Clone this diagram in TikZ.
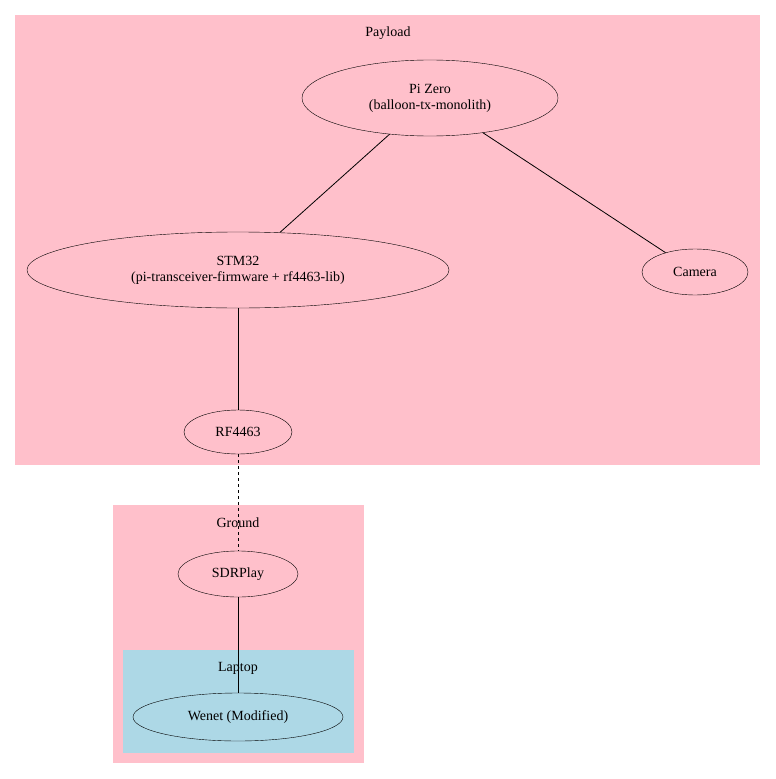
\documentclass[tikz,border=0pt]{standalone}
\usepackage{fontspec}
\setmainfont{Liberation Serif}
\usetikzlibrary{shapes.geometric,positioning}
\definecolor{pinkbg}{HTML}{FFC0CB}
\definecolor{bluebg}{HTML}{ADD8E6}
\tikzset{dev/.style={draw,ellipse,inner sep=0pt,align=center,font=\fontsize{14}{16}\selectfont},
clust/.style={font=\fontsize{14}{16}\selectfont},
link/.style={line width=0.8pt}}

\begin{document}
\begin{tikzpicture}[x=1pt,y=-1pt]
\useasboundingbox (0,0) rectangle (776,779);

% Clusters
\fill[pinkbg] (15,15) rectangle (760,465);
\fill[pinkbg] (113,505) rectangle (364,763);
\fill[bluebg] (123,650) rectangle (354,753);
\node[clust] (payloadLabel) at (388,33) {Payload};
\node[clust] (groundLabel) at (238,523) {Ground};
\node[clust] (laptopLabel) at (238,668) {Laptop};

% Nodes
\node[dev,minimum width=256pt,minimum height=76pt] (pizero) at (430,98) {Pi Zero\\(balloon-tx-monolith)};
\node[dev,minimum width=422pt,minimum height=76pt] (stm) at (238,270) {STM32\\(pi-transceiver-firmware + rf4463-lib)};
\node[dev,minimum width=106pt,minimum height=46pt] (camera) at (695,272) {Camera};
\node[dev,minimum width=108pt,minimum height=44pt] (rf) at (238,432) {RF4463};
\node[dev,minimum width=120pt,minimum height=46pt] (sdr) at (238,574) {SDRPlay};
\node[dev,minimum width=210pt,minimum height=48pt] (wenet) at (238,717) {Wenet (Modified)};

% Edges
\draw[link] (pizero) -- (stm);
\draw[link] (pizero) -- (camera);
\draw[link] (stm) -- (rf);
\draw[link,dashed] (rf) -- (sdr);
\draw[link] (sdr) -- (wenet);

\end{tikzpicture}
\end{document}
